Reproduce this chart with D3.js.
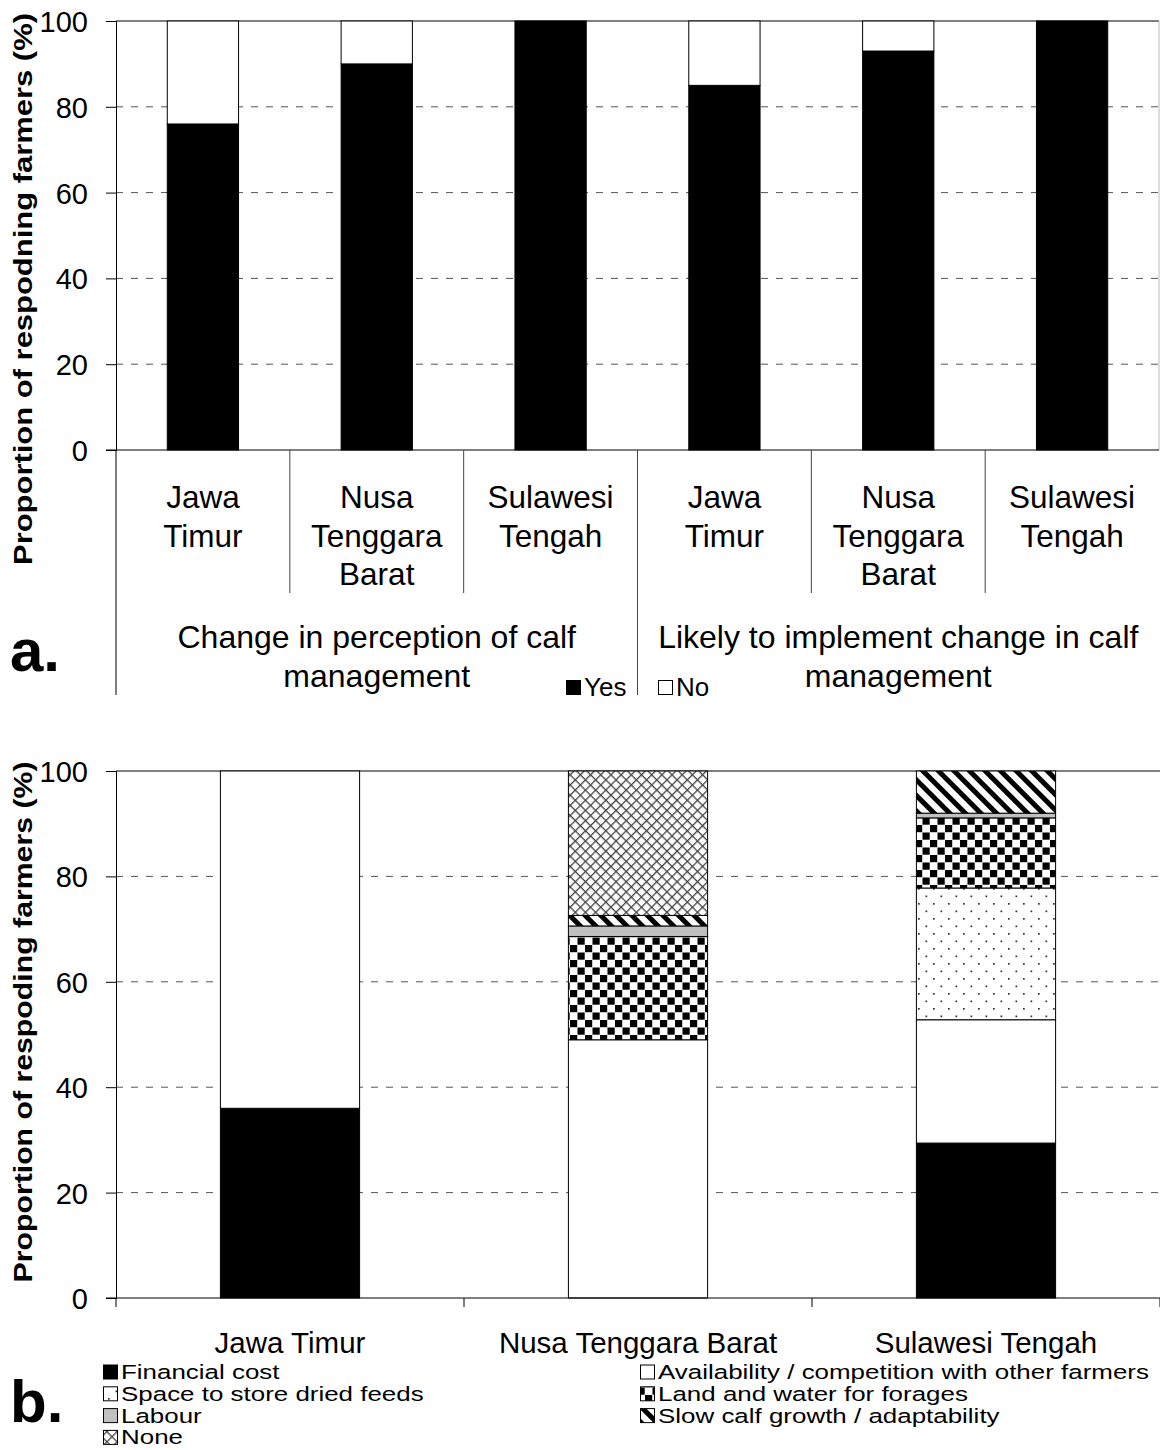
<!DOCTYPE html>
<html><head><meta charset="utf-8">
<script src="https://cdn.jsdelivr.net/npm/d3@7"></script>
<style>
body{margin:0;background:#fff;}
text{font-family:"Liberation Sans",Arial,sans-serif;fill:#000;}
</style></head>
<body>
<svg id="chart" width="1160" height="1450"></svg>
<script>
// ---------- DATA ----------
// Panel a
const aGroupLines = [["Change in perception of calf", "management"], ["Likely to implement change in calf", "management"]];
const aRegions = ["Jawa Timur", "Nusa Tenggara Barat", "Sulawesi Tengah"];
const aRegionLines = [["Jawa", "Timur"], ["Nusa", "Tenggara", "Barat"], ["Sulawesi", "Tengah"]];
const aYes = [76, 90, 100, 85, 93, 100];
const aNo = [24, 10, 0, 15, 7, 0];
const aSeries = ["Yes", "No"];
const yTicks = [0, 20, 40, 60, 80, 100];

// Panel b
const bCategories = ["Jawa Timur", "Nusa Tenggara Barat", "Sulawesi Tengah"];
const bSeries = ["Financial cost", "Availability / competition with other farmers", "Space to store dried feeds",
  "Land and water for forages", "Labour", "Slow calf growth / adaptability", "None"];
const bFinancial    = [36, 0, 29.4];
const bAvailability = [64, 49, 23.4];
const bSpace        = [0, 0, 25.0];
const bLandWater    = [0, 19.6, 13.3];
const bLabour       = [0, 2.0, 0.9];
const bSlowGrowth   = [0, 2.0, 8.0];
const bNone         = [0, 27.4, 0];

const svg = d3.select("#chart");
const defs = svg.append("defs");

function pat(id, w, h) {
  return defs.append("pattern").attr("id", id).attr("patternUnits", "userSpaceOnUse")
    .attr("width", w).attr("height", h);
}
// dots
{ const p = pat("pDots", 15, 15);
  p.append("rect").attr("width", 15).attr("height", 15).attr("fill", "#fff");
  p.append("rect").attr("x", 3).attr("y", 3).attr("width", 1.7).attr("height", 1.7).attr("fill", "#333");
  p.append("rect").attr("x", 10.5).attr("y", 10.5).attr("width", 1.7).attr("height", 1.7).attr("fill", "#333"); }
// checker
{ const p = pat("pCheck", 15, 15);
  p.append("rect").attr("width", 15).attr("height", 15).attr("fill", "#fff");
  p.append("rect").attr("x", 0).attr("y", 0).attr("width", 7.2).attr("height", 7.2).attr("fill", "#000");
  p.append("rect").attr("x", 7.5).attr("y", 7.5).attr("width", 7.2).attr("height", 7.2).attr("fill", "#000"); }
// wide diagonal stripes "\"
{ const p = pat("pStripe", 11, 11).attr("patternTransform", "rotate(45)");
  p.append("rect").attr("width", 11).attr("height", 11).attr("fill", "#fff");
  p.append("rect").attr("x", 0).attr("y", 0).attr("width", 11).attr("height", 5).attr("fill", "#000"); }
// diagonal crosshatch
{ const p = pat("pCross", 7.2, 7.2).attr("patternTransform", "rotate(45)");
  p.append("rect").attr("width", 7.2).attr("height", 7.2).attr("fill", "#fff");
  p.append("line").attr("x1", 0).attr("y1", 0.65).attr("x2", 7.2).attr("y2", 0.65).attr("stroke", "#444").attr("stroke-width", 1.3);
  p.append("line").attr("x1", 0.65).attr("y1", 0).attr("x2", 0.65).attr("y2", 7.2).attr("stroke", "#444").attr("stroke-width", 1.3); }

const bFills = ["#000", "#fff", "url(#pDots)", "url(#pCheck)", "#c0c0c0", "url(#pStripe)", "url(#pCross)"];

// ---------- PANEL A ----------
const aLeft = 116, aRight = 1159, aTop = 21, aBottom = 450;
const aCats = d3.range(6);
const xA = d3.scaleBand().domain(aCats).range([aLeft, aRight]).paddingInner(0).paddingOuter(0);
const yA = d3.scaleLinear().domain([0, 100]).range([aBottom, aTop]);
const gA = svg.append("g");

gA.selectAll(".grid").data(yTicks.filter(t => t > 0 && t < 100)).enter().append("line")
  .attr("x1", aLeft).attr("x2", aRight).attr("y1", d => yA(d)).attr("y2", d => yA(d))
  .attr("stroke", "#555").attr("stroke-dasharray", "7,8").attr("stroke-width", 1);
gA.append("line").attr("x1", aLeft).attr("x2", aRight).attr("y1", aTop).attr("y2", aTop).attr("stroke", "#000");
gA.append("line").attr("x1", aRight).attr("x2", aRight).attr("y1", aTop).attr("y2", aBottom).attr("stroke", "#bbb");

const aBW = xA.bandwidth() * 0.41;
const aStack = aCats.map(i => [{s: 0, y0: 0, y1: aYes[i]}, {s: 1, y0: aYes[i], y1: aYes[i] + aNo[i]}]);
aCats.forEach(i => {
  aStack[i].forEach(seg => {
    if (seg.y1 - seg.y0 <= 0) return;
    gA.append("rect")
      .attr("x", xA(i) + (xA.bandwidth() - aBW) / 2).attr("width", aBW)
      .attr("y", yA(seg.y1)).attr("height", yA(seg.y0) - yA(seg.y1))
      .attr("fill", seg.s === 0 ? "#000" : "#fff").attr("stroke", "#000").attr("stroke-width", 1);
  });
});

const yAxisA = d3.axisLeft(yA).tickValues(yTicks).tickSize(10).tickPadding(18);
const yaA = gA.append("g").attr("transform", `translate(${aLeft},0)`).call(yAxisA);
yaA.select(".domain").attr("stroke", "#000");
yaA.selectAll("text").style("font-size", "29px").style("font-family", "Liberation Sans, Arial").attr("dy", "0.36em");

gA.append("line").attr("x1", aLeft - 10).attr("x2", aRight).attr("y1", aBottom).attr("y2", aBottom).attr("stroke", "#000");
gA.append("line").attr("x1", aLeft).attr("x2", aLeft).attr("y1", aBottom).attr("y2", 695).attr("stroke", "#000");
aCats.forEach(i => {
  if (i === 0) return;
  const x = xA(i);
  const isGroup = i % 3 === 0;
  gA.append("line").attr("x1", x).attr("x2", x).attr("y1", aBottom).attr("y2", isGroup ? 695 : 593)
    .attr("stroke", "#444").attr("stroke-width", 1);
});
aCats.forEach(i => {
  const lines = aRegionLines[i % 3];
  const cx = xA(i) + xA.bandwidth() / 2;
  lines.forEach((ln, k) => {
    gA.append("text").attr("x", cx).attr("y", 508 + k * 38.5).attr("text-anchor", "middle")
      .style("font-size", "31.5px").text(ln);
  });
});
aGroupLines.forEach((lines, g) => {
  const cx = (xA(g * 3) + xA(g * 3 + 2) + xA.bandwidth()) / 2;
  lines.forEach((ln, k) => {
    gA.append("text").attr("x", cx).attr("y", 648 + k * 38.5).attr("text-anchor", "middle")
      .style("font-size", "32px").text(ln);
  });
});
const legA = [{x: 566, fill: "#000", label: aSeries[0]}, {x: 658, fill: "#fff", label: aSeries[1]}];
legA.forEach(d => {
  gA.append("rect").attr("x", d.x + 0.5).attr("y", 680.5).attr("width", 14).attr("height", 14)
    .attr("fill", d.fill).attr("stroke", "#000").attr("stroke-width", 1);
  gA.append("text").attr("x", d.x + 18).attr("y", 695.5).style("font-size", "26px").text(d.label);
});
gA.append("text").attr("transform", `translate(32,289) rotate(-90)`).attr("text-anchor", "middle")
  .attr("textLength", 552).attr("lengthAdjust", "spacingAndGlyphs")
  .style("font-size", "25px").style("font-weight", "bold").text("Proportion of respodning farmers (%)");
svg.append("text").attr("x", 10).attr("y", 671).style("font-size", "60px").style("font-weight", "bold").text("a.");

// ---------- PANEL B ----------
const bLeft = 116, bRight = 1160, bTop = 771, bBottom = 1298;
const xB = d3.scaleBand().domain(bCategories).range([bLeft, bRight]);
const yB = d3.scaleLinear().domain([0, 100]).range([bBottom, bTop]);
const gB = svg.append("g");

gB.selectAll(".gridb").data(yTicks.filter(t => t > 0 && t < 100)).enter().append("line")
  .attr("x1", bLeft).attr("x2", bRight).attr("y1", d => yB(d)).attr("y2", d => yB(d))
  .attr("stroke", "#555").attr("stroke-dasharray", "7,8").attr("stroke-width", 1);
gB.append("line").attr("x1", bLeft).attr("x2", bRight).attr("y1", bTop).attr("y2", bTop).attr("stroke", "#000");

const bValues = [bFinancial, bAvailability, bSpace, bLandWater, bLabour, bSlowGrowth, bNone];
const bRows = bCategories.map((c, i) => {
  const o = {cat: c};
  bSeries.forEach((s, k) => o[s] = bValues[k][i]);
  return o;
});
const stackB = d3.stack().keys(bSeries)(bRows);
const bBW = xB.bandwidth() * 0.4;
stackB.forEach((layer, k) => {
  gB.selectAll(null).data(layer.filter(d => d[1] - d[0] > 0)).enter().append("rect")
    .attr("x", d => xB(d.data.cat) + (xB.bandwidth() - bBW) / 2).attr("width", bBW)
    .attr("y", d => yB(d[1])).attr("height", d => yB(d[0]) - yB(d[1]))
    .attr("fill", bFills[k]).attr("stroke", "#000").attr("stroke-width", 1);
});

const yAxisB = d3.axisLeft(yB).tickValues(yTicks).tickSize(10).tickPadding(18);
const yaB = gB.append("g").attr("transform", `translate(${bLeft},0)`).call(yAxisB);
yaB.selectAll("text").style("font-size", "29px").style("font-family", "Liberation Sans, Arial").attr("dy", "0.36em");
gB.append("line").attr("x1", bLeft - 10).attr("x2", bRight).attr("y1", bBottom).attr("y2", bBottom).attr("stroke", "#000");
[0, 1, 2, 3].forEach(i => {
  const x = bLeft + i * xB.step();
  gB.append("line").attr("x1", x).attr("x2", x).attr("y1", bBottom).attr("y2", bBottom + 9).attr("stroke", "#000");
});
bCategories.forEach(c => {
  gB.append("text").attr("x", xB(c) + xB.bandwidth() / 2).attr("y", 1353).attr("text-anchor", "middle")
    .style("font-size", "29.5px").text(c);
});
const legCols = [{x: 103}, {x: 640}];
bSeries.forEach((s, k) => {
  const col = k % 2, row = Math.floor(k / 2);
  const x = legCols[col].x, yb = 1379 + row * 21.8;
  gB.append("rect").attr("x", x + 0.5).attr("y", yb - 14).attr("width", 14).attr("height", 14)
    .attr("fill", bFills[k]).attr("stroke", "#000").attr("stroke-width", 1);
  gB.append("text").attr("transform", `translate(${x + 18},${yb}) scale(1.33,1)`)
    .style("font-size", "19.5px").text(s);
});
gB.append("text").attr("transform", `translate(32,1022) rotate(-90)`).attr("text-anchor", "middle")
  .attr("textLength", 521).attr("lengthAdjust", "spacingAndGlyphs")
  .style("font-size", "25px").style("font-weight", "bold").text("Proportion of respoding farmers (%)");
svg.append("text").attr("x", 10).attr("y", 1422).style("font-size", "60px").style("font-weight", "bold").text("b.");
</script>
</body></html>
